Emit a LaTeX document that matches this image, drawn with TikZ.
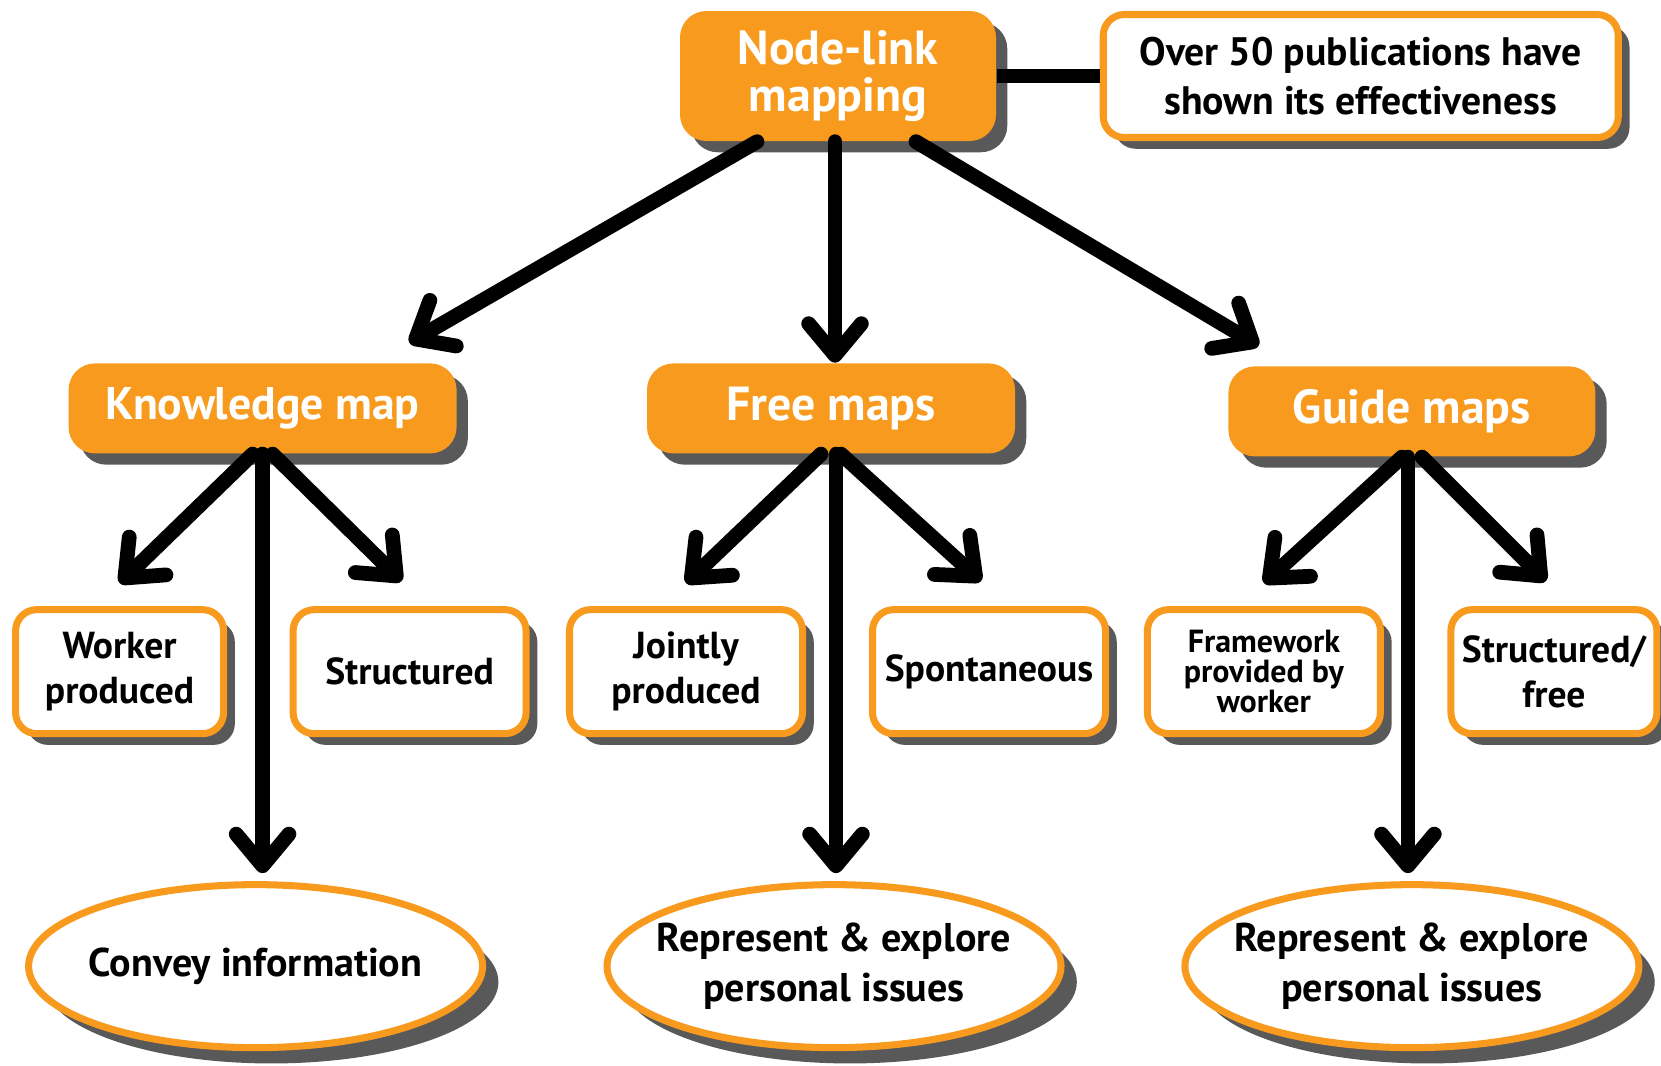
\documentclass[tikz,border=0pt]{standalone}
\usepackage{fontspec}
\setmainfont{PT Sans}
\usetikzlibrary{arrows.meta, positioning, shapes.geometric, shadows}
\definecolor{maporange}{HTML}{F89A1E}
\definecolor{shadowgray}{HTML}{595959}

\begin{document}
\begin{tikzpicture}[
  every node/.style={align=center, inner sep=0pt},
  flat shadow/.style={drop shadow={shadow xshift=3.2pt, shadow yshift=-3.2pt, fill=shadowgray, opacity=1}},
  mainbox/.style={fill=maporange, text=white, rounded corners=7.5pt, flat shadow,
    font=\fontsize{13.6}{13.3}\selectfont\bfseries, minimum height=0.9cm},
  leafbox/.style={draw=maporange, line width=2pt, fill=white, rounded corners=6pt, flat shadow,
    minimum width=2.33cm, minimum height=1.24cm, font=\fontsize{10.7}{12.7}\selectfont\bfseries},
  goalbox/.style={ellipse, draw=maporange, line width=2pt, fill=white, inner xsep=-0.3cm,
    drop shadow={shadow xshift=4.5pt, shadow yshift=-4.5pt, fill=shadowgray, opacity=1},
    minimum width=4.54cm, minimum height=1.63cm, font=\fontsize{11.4}{14.2}\selectfont\bfseries},
  arr/.style={line width=4.2pt, line cap=round, -{Straight Barb[length=9pt, width=15pt, round]}},
  link/.style={line width=4.2pt}
]
\useasboundingbox (0,0) rectangle (16.61,-10.65);

% Nodes
\node[mainbox, minimum width=3.16cm, minimum height=1.30cm] (top) at (8.38,-0.76) {Node-link\\mapping};
\node[leafbox, minimum width=5.15cm, minimum height=1.23cm, font=\fontsize{11.3}{14}\selectfont\bfseries,
  right=1.03cm of top] (pubs) {Over 50 publications have\\shown its effectiveness};

% Map types
\node[mainbox, minimum width=3.68cm, below=2.21cm of top, xshift=-0.7mm] (free) {Free maps};
\node[mainbox, minimum width=3.88cm, left=1.89cm of free, font=\fontsize{13}{13}\selectfont\bfseries] (know) {Knowledge map};
\node[mainbox, minimum width=3.67cm, right=2.12cm of free, yshift=-0.3mm] (guide) {Guide maps};

% Features
\node[leafbox, minimum width=2.08cm, below=1.52cm of know, xshift=-1.43cm] (worker) {Worker\\produced};
\node[leafbox, below=1.52cm of know, xshift=1.47cm] (struct) {Structured};
\node[leafbox, below=1.52cm of free, xshift=-1.45cm] (joint) {Jointly\\produced};
\node[leafbox, below=1.52cm of free, xshift=1.58cm] (spont) {Spontaneous};
\node[leafbox, below=1.49cm of guide, xshift=-1.48cm,
  font=\fontsize{9.1}{8.6}\selectfont\bfseries] (frame) {Framework\\provided by\\worker};
\node[leafbox, minimum width=2.06cm, below=1.49cm of guide, xshift=1.42cm] (sfree) {Structured/\\free};

% Purposes
\node[goalbox, below=4.27cm of know, xshift=-0.7mm] (convey) {Convey information};
\node[goalbox, below=4.27cm of free, xshift=0.3mm] (explore) {Represent \& explore\\personal issues};
\node[goalbox, below=4.24cm of guide] (explore2) {Represent \& explore\\personal issues};

% Edges
\draw[link] (top) -- (pubs);
\draw[arr] ([xshift=-0.81cm]top.south) -- ([xshift=-0.48cm, yshift=0.2cm]know.north east);
\draw[arr] ([xshift=-0.3mm]top.south) -- ([xshift=-0.3mm]top.south |- free.north);
\draw[arr] ([xshift=0.78cm]top.south) -- ([xshift=0.31cm, yshift=0.2cm]guide.north west);

% Knowledge map
\draw[arr] ([xshift=-0.1cm]know.south) -- ([yshift=0.23cm]worker.north);
\draw[arr] ([xshift=0.1cm]know.south) -- ([xshift=-0.08cm, yshift=0.25cm]struct.north);
\draw[arr] (know.south) -- ([yshift=0.08cm]know.south |- convey.north);

% Free maps
\draw[arr] ([xshift=-0.1cm]free.south) -- ([yshift=0.23cm]joint.north);
\draw[arr] ([xshift=0.1cm]free.south) -- ([xshift=-0.08cm, yshift=0.25cm]spont.north);
\draw[arr] ([xshift=0.5mm]free.south) -- ([xshift=0.5mm, yshift=0.08cm]free.south |- explore.north);

% Guide maps
\draw[arr] ([xshift=-0.1cm]guide.south) -- ([yshift=0.23cm]frame.north);
\draw[arr] ([xshift=0.1cm]guide.south) -- ([xshift=-0.08cm, yshift=0.25cm]sfree.north);
\draw[arr] ([xshift=-0.4mm]guide.south) -- ([xshift=-0.4mm, yshift=0.08cm]guide.south |- explore2.north);
\end{tikzpicture}
\end{document}
